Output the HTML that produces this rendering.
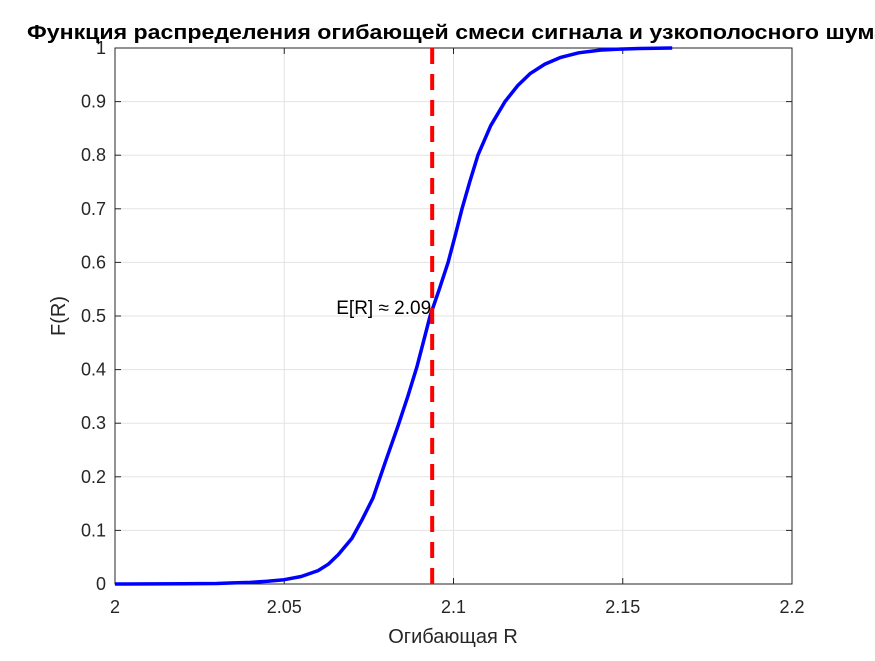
<!DOCTYPE html>
<html><head><meta charset="utf-8"><style>
body{margin:0;background:#fff;width:875px;height:656px;overflow:hidden}
svg{font-family:"Liberation Sans",sans-serif}
</style></head><body>
<svg id="c" width="875" height="656">
<rect x="0" y="0" width="875" height="656" fill="#fff"/>
<g id="grid"></g><g id="ax"></g><g id="plot"></g>
<text x="27" y="39" text-anchor="start" font-size="20" font-weight="bold" fill="#000" textLength="860" lengthAdjust="spacingAndGlyphs">Функция распределения огибающей смеси сигнала и узкополосного шума</text>
<text x="453" y="643" text-anchor="middle" font-size="20" fill="#262626">Огибающая R</text>
<text transform="translate(65,316) rotate(-90)" text-anchor="middle" font-size="20" fill="#262626">F(R)</text>
</svg>
<script>
const xTicks=[2,2.05,2.1,2.15,2.2];
const xTickLabels=["2","2.05","2.1","2.15","2.2"];
const yTicks=[0,0.1,0.2,0.3,0.4,0.5,0.6,0.7,0.8,0.9,1];
const yTickLabels=["0","0.1","0.2","0.3","0.4","0.5","0.6","0.7","0.8","0.9","1"];
const cdfR=[2.0,2.02,2.03,2.035,2.04,2.045,2.05,2.055,2.06,2.063,2.066,2.07,2.073,2.0762,2.08,2.0836,2.0865,2.0892,2.0931,2.0958,2.0984,2.1005,2.1025,2.1048,2.1072,2.111,2.1152,2.119,2.1226,2.127,2.1315,2.137,2.1433,2.149,2.155,2.1646];
const cdfF=[0,0.0005,0.001,0.002,0.003,0.005,0.008,0.014,0.025,0.037,0.055,0.085,0.12,0.16,0.23,0.295,0.35,0.405,0.5,0.55,0.6,0.65,0.7,0.75,0.8,0.855,0.9,0.93,0.952,0.97,0.982,0.991,0.996,0.998,0.999,1];
const meanR=[2.0937];
const meanLabel=["E[R] \u2248 2.09"];
const X0=115,X1=792,Y0=584,Y1=48;
const sx=v=>X0+(v-2)/0.2*(X1-X0);
const sy=v=>Y0-v*(Y0-Y1);
const NS="http://www.w3.org/2000/svg";
function mk(t,a,p){const e=document.createElementNS(NS,t);for(const k in a)e.setAttribute(k,a[k]);p.appendChild(e);return e;}
const grid=document.getElementById('grid'),ax=document.getElementById('ax'),plot=document.getElementById('plot');
xTicks.forEach((v,i)=>{
 const g=mk('line',{x1:sx(v),x2:sx(v),y1:Y1,y2:Y0,stroke:'#e3e3e3'},grid);
 
 
 mk('line',{x1:sx(v),x2:sx(v),y1:Y0,y2:Y0-6,stroke:'#262626'},ax);
 mk('line',{x1:sx(v),x2:sx(v),y1:Y1,y2:Y1+6,stroke:'#262626'},ax);
 const t=mk('text',{x:sx(v),y:Y0+29,'text-anchor':'middle','font-size':18,fill:'#262626'},ax);
 t.textContent=xTickLabels[i];
 
 
});
yTicks.forEach((v,i)=>{
 const g=mk('line',{x1:X0,x2:X1,y1:sy(v),y2:sy(v),stroke:'#e3e3e3'},grid);
 
 
 mk('line',{x1:X0,x2:X0+6,y1:sy(v),y2:sy(v),stroke:'#262626'},ax);
 mk('line',{x1:X1,x2:X1-6,y1:sy(v),y2:sy(v),stroke:'#262626'},ax);
 const t=mk('text',{x:X0-9,y:sy(v)+6,'text-anchor':'end','font-size':18,fill:'#262626'},ax);
 t.textContent=yTickLabels[i];
 
 
});
const box=mk('rect',{x:X0,y:Y1,width:X1-X0,height:Y0-Y1,fill:'none',stroke:'#262626'},ax);


const pts=cdfR.map((r,i)=>sx(r).toFixed(1)+','+sy(cdfF[i]).toFixed(1)).join(' ');
const line=mk('polyline',{points:pts,fill:'none',stroke:'#0000ff','stroke-width':3.5,'stroke-linejoin':'round'},plot);


const ml=mk('line',{x1:sx(meanR[0]),x2:sx(meanR[0]),y1:Y1,y2:Y0,stroke:'#ff0000','stroke-width':4,'stroke-dasharray':'16,10'},plot);


const lb=mk('text',{x:sx(meanR[0])-1,y:sy(0.5)-2,'text-anchor':'end','font-size':19,fill:'#000'},plot);
lb.textContent=meanLabel[0];


</script>
</body></html>
